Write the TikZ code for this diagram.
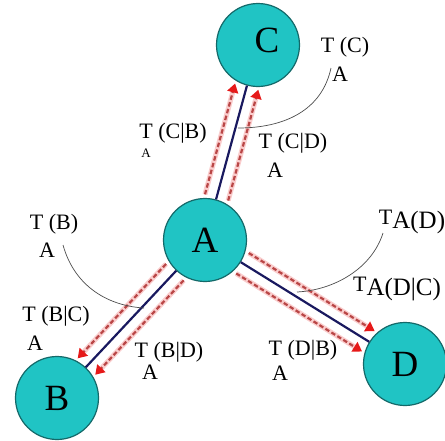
\documentclass[tikz,border=0pt]{standalone}
\usepackage{fontspec}
\setmainfont{Liberation Serif}
\usetikzlibrary{arrows.meta}
\definecolor{teal1}{RGB}{32,196,196}
\definecolor{tealb}{RGB}{20,105,105}
\definecolor{navy1}{RGB}{25,25,95}
\definecolor{red1}{RGB}{230,25,25}
\definecolor{dash1}{RGB}{185,70,70}
\definecolor{pinkbg}{RGB}{250,205,205}
\begin{document}
\begin{tikzpicture}[x=1pt,y=-1pt,
 ball/.style={circle,draw=tealb,line width=1.2pt,fill=teal1,minimum size=83pt,inner sep=0pt,font=\fontsize{37}{37}\selectfont},
 balltext/.style={inner sep=0pt,font=\fontsize{37}{37}\selectfont},
 lab/.style={inner sep=0pt,font=\fontsize{22}{24}\selectfont},
 smalllab/.style={inner sep=0pt,font=\fontsize{13}{14}\selectfont},
 link/.style={draw=navy1,line width=2.2pt},
 flowbg/.style={draw=pinkbg,line width=5pt,shorten >=7pt,shorten <=2pt},
 flow/.style={draw=dash1,line width=2.2pt,dash pattern=on 4.5pt off 2.5pt,-{Triangle[length=9pt,width=11pt,color=red1]},shorten >=1pt,shorten <=2pt},
 lead/.style={draw=black!70,line width=0.7pt}]
\useasboundingbox (0,0) rectangle (445,440);
% circles
\node[ball] (A) at (205,240) {A};
\node[ball] (B) at (57,398) {B};
\node[ball] (C) at (258,45) {};
\node[balltext] (Ct) at (267,40) {C};
\node[ball] (D) at (405,364) {D};
% dashed flow backgrounds
\draw[flowbg,transform canvas={shift={(-11.6pt,3.1pt)}}] (A) -- (C);
\draw[flowbg,transform canvas={shift={(11.6pt,-3.1pt)}}] (A) -- (C);
\draw[flowbg,transform canvas={shift={(-8.8pt,8.2pt)}}] (A) -- (B);
\draw[flowbg,transform canvas={shift={(8.8pt,-8.2pt)}}] (A) -- (B);
\draw[flowbg,transform canvas={shift={(6.3pt,10.2pt)}}] (A) -- (D);
\draw[flowbg,transform canvas={shift={(-6.3pt,-10.2pt)}}] (A) -- (D);
% solid links
\draw[link] (A) -- (C);
\draw[link] (A) -- (B);
\draw[link] (A) -- (D);
% dashed flows
\draw[flow,transform canvas={shift={(-11.6pt,3.1pt)}}] (A) -- (C);
\draw[flow,transform canvas={shift={(11.6pt,-3.1pt)}}] (A) -- (C);
\draw[flow,transform canvas={shift={(-8.8pt,8.2pt)}}] (A) -- (B);
\draw[flow,transform canvas={shift={(8.8pt,-8.2pt)}}] (A) -- (B);
\draw[flow,transform canvas={shift={(6.3pt,10.2pt)}}] (A) -- (D);
\draw[flow,transform canvas={shift={(-6.3pt,-10.2pt)}}] (A) -- (D);
% labels
\node[lab] (tc) at (345,47) {T\ (C)};
\node[lab] (tcA) at (340,74) {A};
\node[lab] (tcb) at (173,133) {T\ (C|B)};
\node[smalllab] (tcbA) at (146,153) {A};
\node[lab] (tcd) at (293,143) {T\ (C|D)};
\node[lab] (tcdA) at (275,170) {A};
\node[lab] (tb) at (54,224) {T\ (B)};
\node[lab] (tbA) at (47,250) {A};
\node[lab] (tbc) at (56,316) {T\ (B|C)};
\node[lab] (tbcA) at (35,343) {A};
\node[lab] (tbd) at (169,352) {T\ (B|D)};
\node[lab] (tbdA) at (150,372) {A};
\node[lab] (td) at (412,222) {T\raisebox{-4pt}{\fontsize{25}{25}\selectfont A(D)}};
\node[lab] (tdc) at (397,289) {T\raisebox{-4pt}{\fontsize{25}{25}\selectfont A(D|C)}};
\node[lab] (tdb) at (303,350) {T\ (D|B)};
\node[lab] (tdbA) at (280,373) {A};
% leader curves
\coordinate (lc0) at (331,68);
\coordinate (lc1) at (238,128);
\coordinate (lb0) at (63,245);
\coordinate (lb1) at (144,308);
\coordinate (ld0) at (383,233);
\coordinate (ld1) at (297,292);
\draw[lead] (lc0) .. controls (322,110) and (285,128) .. (lc1);
\draw[lead] (lb0) .. controls (75,288) and (110,306) .. (lb1);
\draw[lead] (ld0) .. controls (372,268) and (335,290) .. (ld1);
\end{tikzpicture}
\end{document}
